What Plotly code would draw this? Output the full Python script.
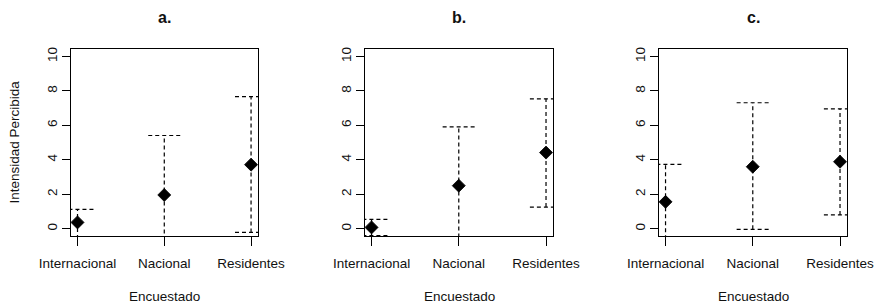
import plotly.graph_objects as go

# ---- data ----
categories = ["Internacional", "Nacional", "Residentes"]
panel_titles = ["a.", "b.", "c."]

means_a = [0.37, 1.96, 3.72]
upper_a = [1.13, 5.41, 7.67]
lower_a = [-0.60, -1.49, -0.21]

means_b = [0.08, 2.50, 4.42]
upper_b = [0.55, 5.91, 7.54]
lower_b = [-0.40, -0.91, 1.26]

means_c = [1.56, 3.60, 3.89]
upper_c = [3.73, 7.31, 6.96]
lower_c = [-0.61, -0.03, 0.80]

y_ticks = [0, 2, 4, 6, 8, 10]
x_title = "Encuestado"
y_title = "Intensidad Percibida"

panels = [(means_a, upper_a, lower_a), (means_b, upper_b, lower_b), (means_c, upper_c, lower_c)]

# ---- style ----
W, H = 878, 307


def px(x):
    return x / W


def py(y):
    return 1 - y / H


FONT = "Liberation Sans, Arial, sans-serif"
CAP = 0.185  # cap half-width in x data units
DASH = "4px,3px"
x_domains = [[px(71), px(258)], [px(365), px(553)], [px(659), px(847)]]
y_domain = [py(236), py(49)]

fig = go.Figure()
xpos = list(range(1, len(categories) + 1))

for k, (m, up, lo) in enumerate(panels):
    xa = "x" if k == 0 else f"x{k+1}"
    ya = "y" if k == 0 else f"y{k+1}"
    lx, ly = [], []
    for i, x in enumerate(xpos):
        lx += [x, x, None]
        ly += [lo[i], up[i], None]
        lx += [x - CAP, x + CAP, None, x - CAP, x + CAP, None]
        ly += [up[i], up[i], None, lo[i], lo[i], None]
    fig.add_trace(go.Scatter(x=lx, y=ly, mode="lines", xaxis=xa, yaxis=ya,
                             line=dict(color="black", width=1.2, dash=DASH),
                             hoverinfo="skip", showlegend=False))
    fig.add_trace(go.Scatter(x=xpos, y=m, mode="markers", xaxis=xa, yaxis=ya,
                             marker=dict(symbol="diamond", size=10, color="black",
                                         line=dict(width=0.8, color="black")),
                             cliponaxis=False, showlegend=False))

    axis_common = dict(showline=True, mirror=True, linecolor="black", linewidth=1,
                       showgrid=False, zeroline=False, ticks="outside",
                       tickcolor="black", tickwidth=1, automargin=False,
                       tickfont=dict(family=FONT, size=13.5, color="#111"))
    fig.layout[("xaxis" if k == 0 else f"xaxis{k+1}")] = dict(
        domain=x_domains[k], anchor=ya, range=[0.925, 3.08],
        tickmode="array", tickvals=xpos, ticktext=categories,
        ticklen=9, ticklabelstandoff=6, **axis_common)
    fig.layout[("yaxis" if k == 0 else f"yaxis{k+1}")] = dict(
        domain=y_domain, anchor=xa, range=[-0.42, 10.43],
        tickmode="array", tickvals=y_ticks, ticktext=[str(v) for v in y_ticks],
        tickangle=-90, ticklen=8, **axis_common)

    cx = (x_domains[k][0] + x_domains[k][1]) / 2
    fig.add_annotation(text=f"<b>{panel_titles[k]}</b>", x=cx, y=py(17.5),
                       xref="paper", yref="paper", showarrow=False,
                       font=dict(family=FONT, size=16, color="#111"),
                       xanchor="center", yanchor="middle")
    fig.add_annotation(text=x_title, x=cx, y=py(296.5),
                       xref="paper", yref="paper", showarrow=False,
                       font=dict(family=FONT, size=13.5, color="#111"),
                       xanchor="center", yanchor="middle")

fig.add_annotation(text=y_title, x=px(14), y=py(142.5), textangle=-90,
                   xref="paper", yref="paper", showarrow=False,
                   font=dict(family=FONT, size=13.5, color="#111"),
                   xanchor="center", yanchor="middle")

fig.update_layout(width=W, height=H, autosize=False,
                  margin=dict(l=0, r=0, t=0, b=0, pad=0, autoexpand=False),
                  paper_bgcolor="white", plot_bgcolor="white",
                  showlegend=False, hovermode=False)

fig.write_html("out.html",
               config={"displayModeBar": False},
               post_script="document.body.style.margin='0';document.body.style.overflow='hidden';")
